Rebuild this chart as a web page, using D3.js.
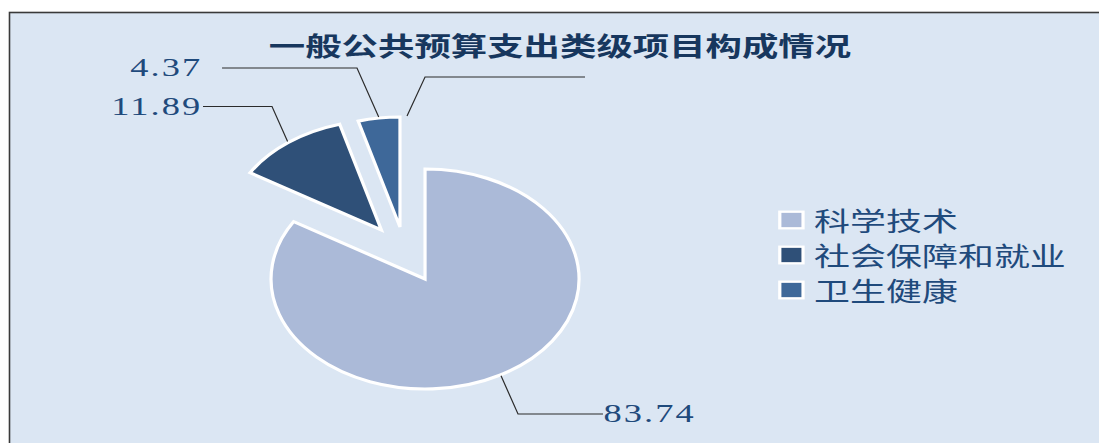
<!DOCTYPE html>
<html>
<head>
<meta charset="utf-8">
<title>一般公共预算支出类级项目构成情况</title>
<script src="https://d3js.org/d3.v7.min.js"></script>
<style>
  body { margin: 0; background: #fff; }
  svg { display: block; }
  .leader { fill: none; stroke: #2b2b2b; stroke-width: 1.2; vector-effect: non-scaling-stroke; }
  .slice { stroke: #fff; stroke-width: 3.2; stroke-linejoin: miter; vector-effect: non-scaling-stroke; }
</style>
</head>
<body>
<svg id="chart" width="1099" height="443"></svg>
<script>
// data
const title = "一般公共预算支出类级项目构成情况";
const categories = ["科学技术", "社会保障和就业", "卫生健康"];
const values = [83.74, 11.89, 4.37];
const colors = ["#abbad8", "#2f5078", "#3e6899"];

// layout (the picture is stretched 1.4x horizontally, so draw in narrow coords)
const sx = 1.4;
const cx = 303.6, cy = 279, r = 110;
const explode = [null, {dist: 58, deg: 327.5}, {dist: 55, deg: 341}];
const labelLayout = [
  {elbow: [370, 414], end: [430.7, 414], tx: 431, ty: 422, anchor: "start"},
  {elbow: [194.3, 106.5], end: [145, 106.5], tx: 144.5, ty: 115, anchor: "end"},
  {elbow: [255, 68], end: [158.6, 68], tx: 144.5, ty: 76, anchor: "end"}
];
// leader with no text, right of the last slice
const spareLeader = {deg: 2.6, elbow: [303.6, 77], end: [417.9, 77]};

const svg = d3.select("#chart");

// chart area with border on top and left
svg.append("rect")
  .attr("x", 9.5).attr("y", 12.5)
  .attr("width", 1200).attr("height", 600)
  .attr("fill", "#dbe6f3")
  .attr("stroke", "#3a3a3a").attr("stroke-width", 1.6);

const root = svg.append("g").attr("transform", `scale(${sx},1)`);

root.append("text")
  .attr("x", 400).attr("y", 56)
  .attr("text-anchor", "middle")
  .style("font-family", "'Noto Sans CJK SC', sans-serif")
  .style("font-size", "26px")
  .style("font-weight", "bold")
  .attr("fill", "#17375e")
  .text(title);

const pie = d3.pie().sort(null).value(d => d);
const arcs = pie(values);
const arc = d3.arc().innerRadius(0).outerRadius(r);

function offset(i) {
  const e = explode[i];
  if (!e) return [0, 0];
  const a = e.deg * Math.PI / 180;
  return [Math.sin(a) * e.dist, -Math.cos(a) * e.dist];
}

const pieG = root.append("g").attr("transform", `translate(${cx},${cy})`);

pieG.selectAll("path")
  .data(arcs)
  .enter()
  .append("path")
  .attr("class", "slice")
  .attr("transform", (d, i) => `translate(${offset(i)})`)
  .attr("fill", (d, i) => colors[i])
  .attr("d", arc);

// leader lines + value labels
const fmt = d3.format(".2f");
arcs.forEach((d, i) => {
  const o = offset(i);
  const mid = (d.startAngle + d.endAngle) / 2;
  const start = [cx + o[0] + Math.sin(mid) * (r + 1), cy + o[1] - Math.cos(mid) * (r + 1)];
  const L = labelLayout[i];
  root.append("path")
    .attr("class", "leader")
    .attr("d", d3.line()([start, L.elbow, L.end]));
  root.append("text")
    .attr("x", L.tx).attr("y", L.ty)
    .attr("text-anchor", L.anchor)
    .style("font-family", "'Liberation Serif', serif")
    .style("font-size", "26px")
    .style("letter-spacing", "1.5px")
    .attr("fill", "#1f4a7c")
    .text(fmt(values[i]));
});

{
  const last = arcs.length - 1;
  const o = offset(last);
  const a = spareLeader.deg * Math.PI / 180;
  const start = [cx + o[0] + Math.sin(a) * (r + 1), cy + o[1] - Math.cos(a) * (r + 1)];
  root.append("path")
    .attr("class", "leader")
    .attr("d", d3.line()([start, spareLeader.elbow, spareLeader.end]));
}

// legend
const legend = root.append("g").attr("transform", "translate(557,220)");
const rowH = 35;
const items = legend.selectAll("g")
  .data(categories)
  .enter()
  .append("g")
  .attr("transform", (d, i) => `translate(0,${i * rowH})`);

items.append("rect")
  .attr("x", 0).attr("y", -8.3)
  .attr("width", 16.6).attr("height", 16.6)
  .attr("fill", (d, i) => colors[i])
  .attr("stroke", "#fff").attr("stroke-width", 2.3);

items.append("text")
  .attr("x", 24.5).attr("y", 10.5)
  .style("font-family", "'Noto Sans CJK SC', sans-serif")
  .style("font-size", "25.7px")
  .attr("fill", "#1f4a7c")
  .text(d => d);
</script>
</body>
</html>
